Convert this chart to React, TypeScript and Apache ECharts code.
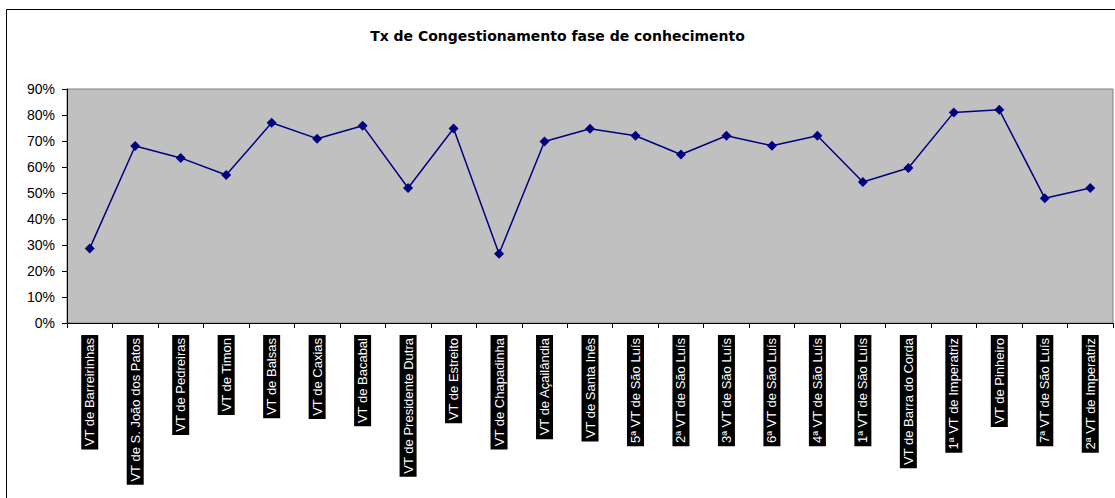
import React, { useEffect, useRef } from "react";
import * as echarts from "echarts";

const titleText = "Tx de Congestionamento fase de conhecimento";

const categories = [
  "VT de Barreirinhas",
  "VT de S. João dos Patos",
  "VT de Pedreiras",
  "VT de Timon",
  "VT de Balsas",
  "VT de Caxias",
  "VT de Bacabal",
  "VT de Presidente Dutra",
  "VT de Estreito",
  "VT de Chapadinha",
  "VT de Açailândia",
  "VT de Santa Inês",
  "5ª VT de São Luís",
  "2ª VT de São Luís",
  "3ª VT de São Luís",
  "6ª VT de São Luís",
  "4ª VT de São Luís",
  "1ª VT de São Luís",
  "VT de Barra do Corda",
  "1ª VT de Imperatriz",
  "VT de Pinheiro",
  "7ª VT de São Luís",
  "2ª VT de Imperatriz",
];

const congestionRate = [
  28.7, 68.1, 63.5, 56.9, 77.0, 70.9, 75.9, 51.9, 74.8, 26.6, 69.8, 74.7, 72.0,
  64.8, 72.0, 68.2, 72.0, 54.2, 59.6, 81.0, 82.0, 48.0, 51.9,
];

const yTicks = { min: 0, max: 90, interval: 10 };

export default function App() {
  const ref = useRef<HTMLDivElement>(null);

  useEffect(() => {
    if (!ref.current) return;
    const chart = echarts.init(ref.current, null, { renderer: "svg" });
    chart.setOption({
      animation: false,
      backgroundColor: "#ffffff",
      title: {
        text: titleText,
        left: "center",
        top: 24,
        textStyle: {
          fontFamily: "DejaVu Sans",
          fontSize: 14,
          fontWeight: "bold",
          color: "#000000",
        },
      },
      graphic: [
        {
          type: "rect",
          shape: { x: 6.5, y: 9.5, width: 1300, height: 700 },
          style: { fill: "none", stroke: "#000000", lineWidth: 1 },
          silent: true,
          z: 100,
        },
      ],
      grid: {
        left: 67,
        top: 89,
        right: 2,
        bottom: 175,
        show: true,
        backgroundColor: "#C0C0C0",
        borderColor: "#808080",
        borderWidth: 1,
      },
      xAxis: {
        type: "category",
        data: categories,
        boundaryGap: true,
        axisLine: { show: true, lineStyle: { color: "#000000", width: 1 } },
        axisTick: {
          show: true,
          alignWithLabel: false,
          length: 5,
          lineStyle: { color: "#000000" },
        },
        axisLabel: {
          interval: 0,
          rotate: 90,
          margin: 12,
          color: "#ffffff",
          backgroundColor: "#000000",
          fontFamily: "Liberation Sans",
          fontSize: 13,
          lineHeight: 15,
          padding: [1, 3, 1, 3],
        },
        splitLine: { show: false },
      },
      yAxis: {
        type: "value",
        min: yTicks.min,
        max: yTicks.max,
        interval: yTicks.interval,
        axisLine: { show: true, lineStyle: { color: "#000000", width: 1 } },
        axisTick: { show: true, length: 5, lineStyle: { color: "#000000" } },
        axisLabel: {
          formatter: "{value}%",
          color: "#000000",
          fontFamily: "Liberation Sans",
          fontSize: 14,
          margin: 12,
        },
        splitLine: { show: false },
      },
      series: [
        {
          type: "line",
          data: congestionRate,
          symbol: "diamond",
          symbolSize: 10,
          showSymbol: true,
          lineStyle: { color: "#000080", width: 1.5 },
          itemStyle: { color: "#000080" },
        },
      ],
    });
    return () => chart.dispose();
  }, []);

  return (
    <div
      ref={ref}
      style={{ position: "absolute", left: 0, top: 0, width: 1115, height: 498 }}
    />
  );
}
